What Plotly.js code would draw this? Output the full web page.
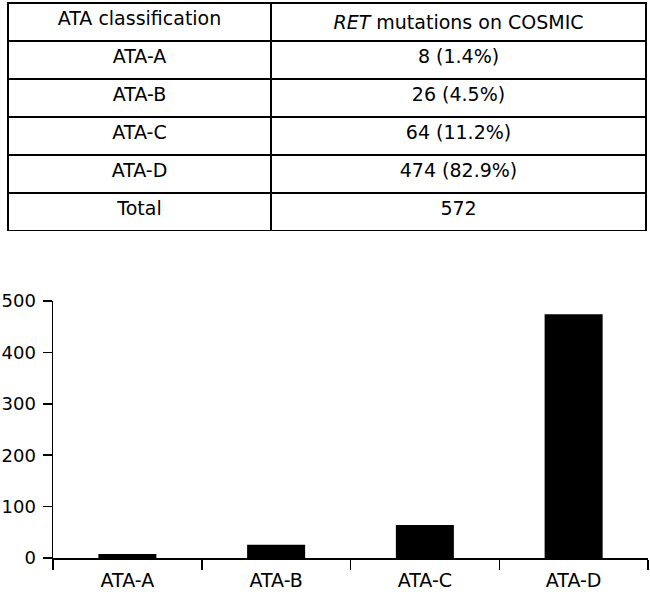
<!DOCTYPE html>
<html>
<head>
<meta charset="utf-8">
<script src="https://cdn.plot.ly/plotly-3.0.1.min.js"></script>
<style>
  html, body { margin: 0; padding: 0; background: #fff; }
</style>
</head>
<body>
<div id="myPlot" style="width:650px;height:595px;"></div>
<script>
/**
 * Data
 */
const categories = ["ATA-A", "ATA-B", "ATA-C", "ATA-D"];
const counts = [8, 26, 64, 474];
const percents = ["1.4", "4.5", "11.2", "82.9"];
const headers = ["ATA classification", "<i>RET</i> mutations on COSMIC"];

const total = counts.reduce((a, b) => a + b, 0);

const FONT = "DejaVu Sans, Liberation Sans, Arial, sans-serif";

/**
 * Table on top
 */
const tableTrace = {
  type: "table",
  domain: { x: [0, 0.997], y: [0.586, 0.9965] },
  columnwidth: [263, 375],
  header: {
    values: headers,
    align: "center",
    height: 38,
    line: { color: "#000", width: 2 },
    fill: { color: "#fff" },
    font: { family: FONT, size: 19, color: "#000" }
  },
  cells: {
    values: [
      categories.concat(["Total"]),
      counts.map((c, i) => c + " (" + percents[i] + "%)").concat([String(total)])
    ],
    align: "center",
    height: 38,
    line: { color: "#000", width: 2 },
    fill: { color: "#fff" },
    font: { family: FONT, size: 19, color: "#000" }
  }
};

/**
 * Bar chart below
 */
const barTrace = {
  type: "bar",
  x: categories,
  y: counts,
  width: 0.39,
  marker: { color: "#000" },
  hoverinfo: "x+y"
};

const layout = {
  width: 650,
  height: 595,
  margin: { l: 8, r: 2, t: 1, b: 37 },
  paper_bgcolor: "#fff",
  plot_bgcolor: "#fff",
  showlegend: false,
  font: { family: FONT, color: "#000" },
  xaxis: {
    domain: [45 / 640, 1],
    type: "category",
    showline: true,
    linecolor: "#000",
    linewidth: 1.5,
    showgrid: false,
    zeroline: false,
    ticks: "outside",
    tickson: "boundaries",
    ticklen: 10,
    tickwidth: 1.5,
    tickcolor: "#000",
    ticklabelstandoff: 5,
    tickfont: { family: FONT, size: 19, color: "#000" },
    automargin: false
  },
  yaxis: {
    domain: [0, 0.4614],
    range: [0, 500],
    tickvals: [0, 100, 200, 300, 400, 500],
    showline: true,
    linecolor: "#000",
    linewidth: 1.5,
    showgrid: false,
    zeroline: false,
    ticks: "outside",
    ticklen: 9,
    tickwidth: 1.5,
    tickcolor: "#000",
    ticklabelstandoff: 3,
    tickfont: { family: FONT, size: 18, color: "#000" },
    automargin: false
  }
};

Plotly.newPlot("myPlot", [tableTrace, barTrace], layout, { displayModeBar: false, staticPlot: true });
</script>
</body>
</html>
